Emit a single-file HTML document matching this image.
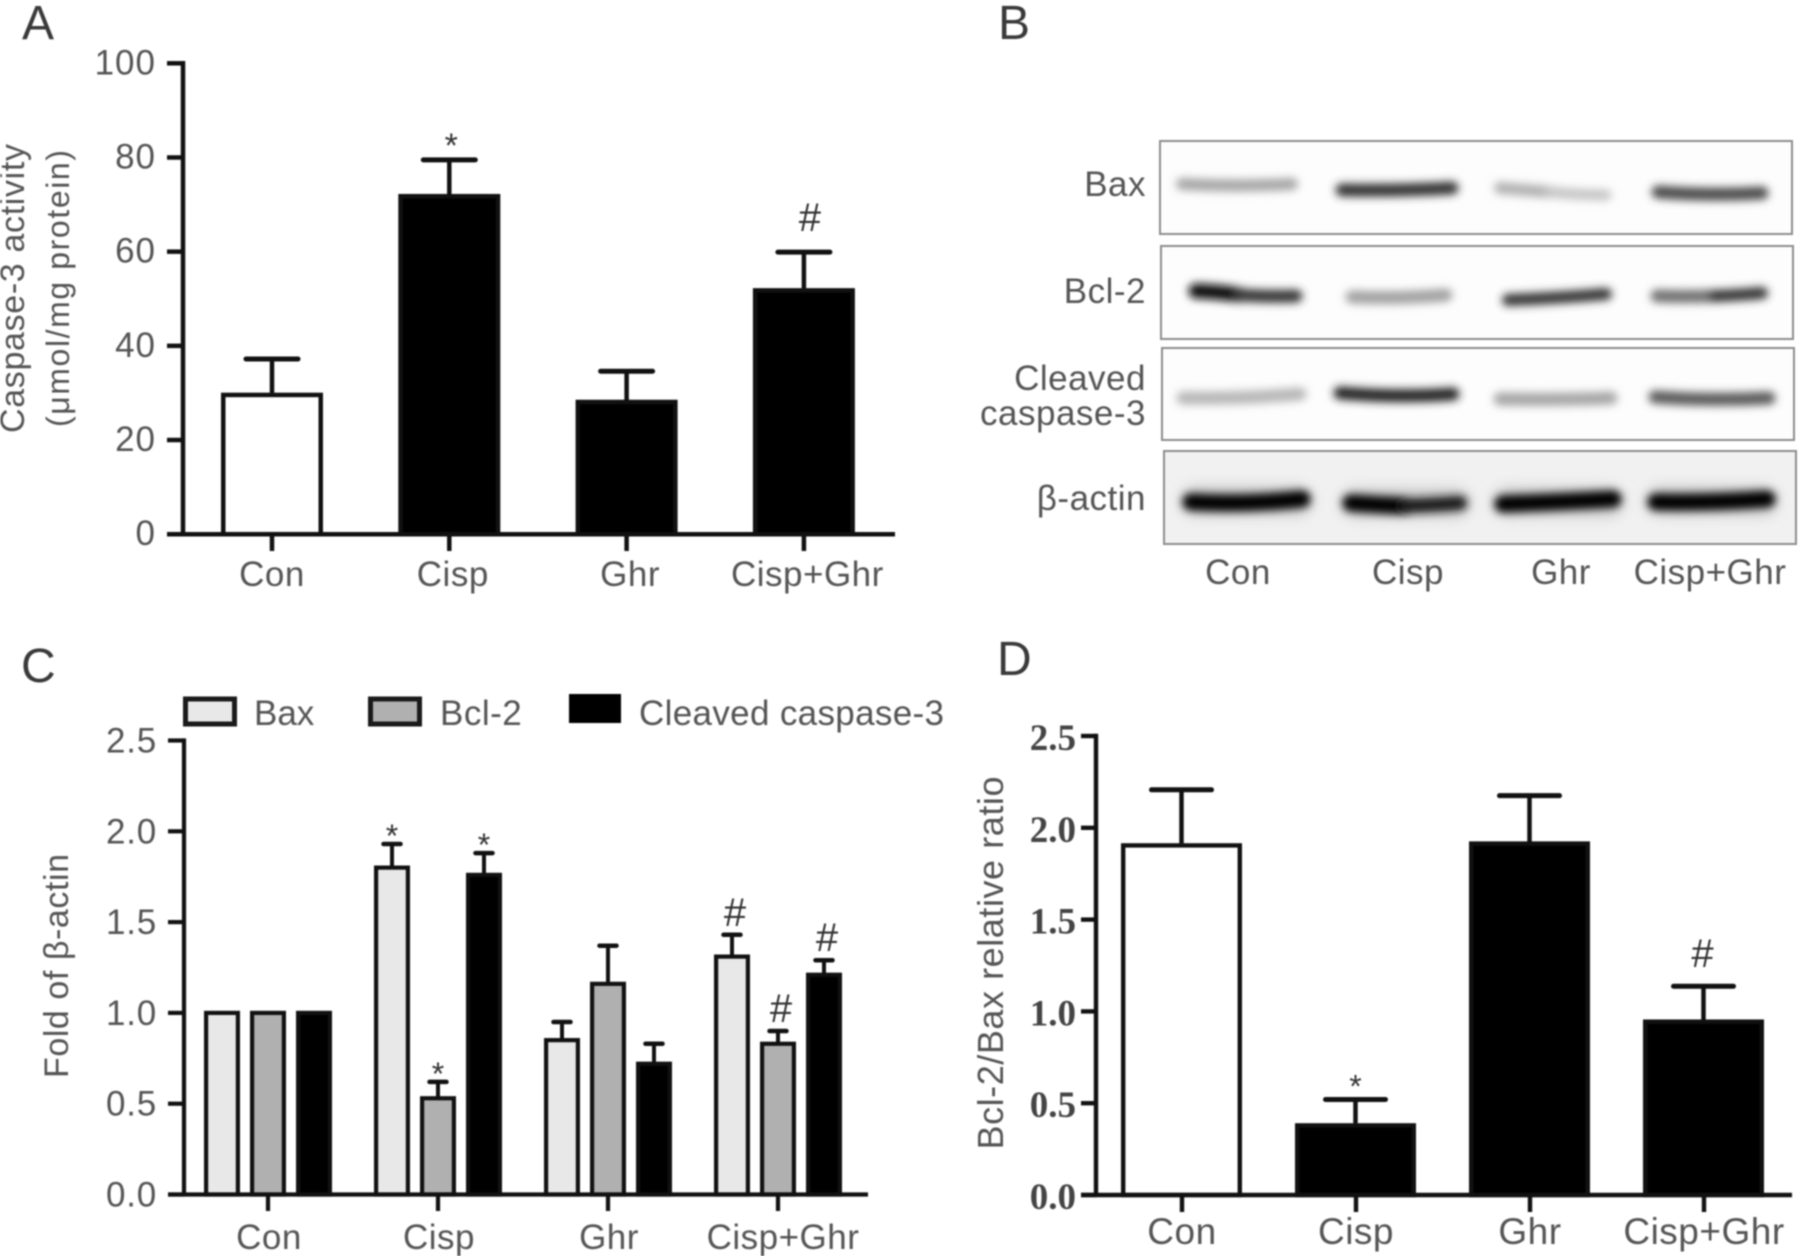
<!DOCTYPE html>
<html lang="en">
<head>
<meta charset="utf-8">
<title>Caspase-3 activity, western blots, fold of β-actin and Bcl-2/Bax ratio</title>
<style>
  html, body { margin: 0; padding: 0; background: #fff; }
  body { width: 1801px; height: 1256px; overflow: hidden; }
  svg { display: block; filter: blur(0.8px); }
  text { font-family: "Liberation Sans", sans-serif; fill: #555; }
  .panel-letter { font-size: 48px; fill: #3a3a3a; }
  .label { font-size: 35px; }
  .row-label { font-size: 35px; letter-spacing: .5px; }
  .blot-box { stroke: #8c8c8c; stroke-width: 2; fill: #fdfdfd; }
</style>
</head>
<body>
<svg id="figure" xmlns="http://www.w3.org/2000/svg" width="1801" height="1256" viewBox="0 0 1801 1256">
  <defs>
    <filter id="band-blur" filterUnits="userSpaceOnUse" x="1150" y="130" width="651" height="420"><feGaussianBlur stdDeviation="4.2"/></filter>
    <filter id="halo-blur" filterUnits="userSpaceOnUse" x="1150" y="440" width="651" height="110"><feGaussianBlur stdDeviation="7"/></filter>
  </defs>

  <text class="panel-letter" x="22" y="39">A</text>
  <text class="panel-letter" x="998" y="39">B</text>
  <text class="panel-letter" x="21" y="682">C</text>
  <text class="panel-letter" x="997" y="675">D</text>

  <g id="panel-a">
    <text class="label" style="font-size:34px" transform="translate(24 288.5) rotate(-90)" text-anchor="middle" textLength="289">Caspase-3 activity</text>
    <text class="label" style="font-size:32px" transform="translate(69 288.5) rotate(-90)" text-anchor="middle" textLength="277">(μmol/mg protein)</text>
  </g>

  <g id="panel-b">
    <rect class="blot-box" x="1160" y="141" width="632" height="93"/>
    <rect class="blot-box" x="1161" y="246" width="632" height="93"/>
    <rect class="blot-box" x="1162" y="348" width="632" height="92"/>
    <rect class="blot-box" x="1164" y="451" width="632" height="93" style="fill:#f1f1f1"/>

    <g filter="url(#halo-blur)" fill="none" stroke="#c4c4c4" stroke-width="28" stroke-linecap="round">
      <path d="M1195 501 H1298"/><path d="M1355 503 H1456"/><path d="M1507 502 H1609"/><path d="M1660 501 H1763"/>
    </g>
    <g filter="url(#band-blur)" fill="none" stroke-linecap="round">
      <path d="M1182 184 Q1240 187 1292 184" stroke="#a4a4a4" stroke-width="12"/>
      <path d="M1342 190 Q1400 191 1452 188" stroke="#303030" stroke-width="13"/>
      <path d="M1500 188 Q1525 190 1550 192" stroke="#b0b0b0" stroke-width="12"/>
      <path d="M1550 192 Q1580 195 1606 195" stroke="#c4c4c4" stroke-width="11"/>
      <path d="M1658 192 Q1710 196 1762 193" stroke="#484848" stroke-width="13"/>

      <path d="M1196 291 Q1220 292 1240 295" stroke="#101010" stroke-width="15"/>
      <path d="M1240 295 Q1270 297 1296 296" stroke="#363636" stroke-width="13"/>
      <path d="M1352 297 Q1400 299 1446 295" stroke="#a0a0a0" stroke-width="13"/>
      <path d="M1508 300 Q1560 298 1606 294" stroke="#303030" stroke-width="12"/>
      <path d="M1657 296 Q1685 297 1715 296" stroke="#707070" stroke-width="13"/>
      <path d="M1715 296 Q1740 295 1762 293" stroke="#303030" stroke-width="12"/>

      <path d="M1183 398 Q1240 399 1300 394" stroke="#b6b6b6" stroke-width="13"/>
      <path d="M1340 393 Q1400 398 1453 394" stroke="#202020" stroke-width="13"/>
      <path d="M1500 399 Q1560 400 1611 398" stroke="#a4a4a4" stroke-width="13"/>
      <path d="M1655 397 Q1710 401 1769 398" stroke="#585858" stroke-width="13"/>

      <path d="M1191 502 Q1245 505 1302 499" stroke="#000" stroke-width="17"/>
      <path d="M1351 503 Q1380 505 1405 506" stroke="#000" stroke-width="17"/>
      <path d="M1405 506 Q1435 505 1460 503" stroke="#161616" stroke-width="14"/>
      <path d="M1503 504 Q1560 502 1613 499" stroke="#000" stroke-width="17"/>
      <path d="M1656 502 Q1710 503 1767 499" stroke="#000" stroke-width="17"/>
    </g>

    <text class="row-label" x="1146" y="196" text-anchor="end">Bax</text>
    <text class="row-label" x="1146" y="303" text-anchor="end">Bcl-2</text>
    <text class="row-label" x="1146" y="390" text-anchor="end">Cleaved</text>
    <text class="row-label" x="1146" y="425" text-anchor="end">caspase-3</text>
    <text class="row-label" x="1146" y="510" text-anchor="end">β-actin</text>
    <text class="row-label" x="1238" y="584" text-anchor="middle">Con</text>
    <text class="row-label" x="1408" y="584" text-anchor="middle">Cisp</text>
    <text class="row-label" x="1561" y="584" text-anchor="middle">Ghr</text>
    <text class="row-label" x="1710" y="584" text-anchor="middle">Cisp+Ghr</text>
  </g>

  <g id="panel-c">
    <text class="label" style="font-size:34px" transform="translate(68 966) rotate(-90)" text-anchor="middle" textLength="224">Fold of β-actin</text>
    <rect x="185.5" y="699" width="49" height="25" fill="#e8e8e8" stroke="#1a1a1a" stroke-width="5"/>
    <text class="label" x="254" y="725">Bax</text>
    <rect x="370.5" y="699" width="49" height="25" fill="#b0b0b0" stroke="#1a1a1a" stroke-width="5"/>
    <text class="label" x="440" y="725" style="letter-spacing:.5px">Bcl-2</text>
    <rect x="569" y="694" width="52" height="29" fill="#000"/>
    <text class="label" x="639" y="725" textLength="305">Cleaved caspase-3</text>
  </g>

  <g id="panel-d">
    <text class="label" style="font-size:36px" transform="translate(1003 963) rotate(-90)" text-anchor="middle" textLength="373">Bcl-2/Bax relative ratio</text>
  </g>

<script>
// Shared categories
const categories = ['Con', 'Cisp', 'Ghr', 'Cisp+Ghr'];

// Panel A data
const yTicksA = [0, 20, 40, 60, 80, 100];
const yTickLabelsA = ['0', '20', '40', '60', '80', '100'];
const valuesA = [30, 72.2, 28.5, 52.2];
const errorsA = [7.2, 7.3, 6.1, 7.7];
const marksA = ['', '*', '', '#'];

// Panel C data
const seriesNamesC = ['bax', 'bcl2', 'cleaved-caspase-3'];
const yTicksC = [0, 0.5, 1, 1.5, 2, 2.5];
const yTickLabelsC = ['0.0', '0.5', '1.0', '1.5', '2.0', '2.5'];
const baxValues = [1, 1.8, 0.85, 1.31];
const baxErrors = [0, 0.13, 0.1, 0.12];
const baxMarks = ['', '*', '', '#'];
const bcl2Values = [1, 0.53, 1.16, 0.83];
const bcl2Errors = [0, 0.09, 0.21, 0.07];
const bcl2Marks = ['', '*', '', '#'];
const cleavedValues = [1, 1.76, 0.72, 1.21];
const cleavedErrors = [0, 0.12, 0.11, 0.08];
const cleavedMarks = ['', '*', '', '#'];

// Panel D data
const yTicksD = [0, 0.5, 1, 1.5, 2, 2.5];
const yTickLabelsD = ['0.0', '0.5', '1.0', '1.5', '2.0', '2.5'];
const valuesD = [1.915, 0.39, 1.925, 0.955];
const errorsD = [0.292, 0.13, 0.25, 0.182];
const marksD = ['', '*', '', '#'];

// Axis functions
const yA = v => 534.2 - v * 4.709;
const xA = i => 272 + i * 177.3;
const labelXA = i => xA(i) + (i === 0 ? 0 : 3.5);
const yC = v => 1194.5 - v * 181.6;
const xC = (i, s) => 268 + i * 170 + (s - 1) * 46;
const tickXC = i => 268 + i * 170;
const labelXC = i => tickXC(i) + (i === 3 ? 5 : 1);
const yD = v => 1195 - v * 183.6;
const xD = i => 1182 + i * 174;

const NS = 'http://www.w3.org/2000/svg';
function make(tag, attrs, parent, content) {
  const node = document.createElementNS(NS, tag);
  for (const key in attrs) node.setAttribute(key, attrs[key]);
  if (content !== undefined) node.textContent = content;
  parent.appendChild(node);
  return node;
}

function drawFrame(parent, key, cfg) {
  let el = make('line', { x1: cfg.axisX, x2: cfg.axisX, y1: cfg.y(cfg.ticks[cfg.ticks.length - 1]) - cfg.sw / 2, y2: cfg.y(0), stroke: '#111', 'stroke-width': cfg.sw }, parent);
  
  
  el = make('line', { x1: cfg.tickLeft, x2: cfg.xEnd, y1: cfg.y(0), y2: cfg.y(0), stroke: '#111', 'stroke-width': cfg.sw }, parent);
  
  
  cfg.ticks.forEach((t, i) => {
    let tick = make('line', { x1: cfg.tickLeft, x2: cfg.axisX, y1: cfg.y(t), y2: cfg.y(t), stroke: '#111', 'stroke-width': cfg.sw }, parent);
    
    
    let label = make('text', { x: cfg.tickLabelX, y: cfg.y(t) + cfg.tickDy, 'text-anchor': 'end', style: cfg.tickStyle }, parent, cfg.tickLabels[i]);
    
    
  });
  categories.forEach((c, i) => {
    let tick = make('line', { x1: cfg.tickX(i), x2: cfg.tickX(i), y1: cfg.y(0), y2: cfg.xTickBottom, stroke: '#111', 'stroke-width': cfg.sw }, parent);
    
    
    let label = make('text', { x: cfg.labelX(i), y: cfg.labelY, 'text-anchor': 'middle', style: cfg.labelStyle }, parent, c);
    
    
  });
}

function drawBar(parent, key, cfg, cx, value, err, fill, mark) {
  const half = cfg.barW / 2;
  const inset = cfg.sw / 2;
  const top = cfg.y(value);
  const base = cfg.y(0);
  if (err > 0) {
    const errTop = cfg.y(value + err);
    let stem = make('line', { x1: cx, x2: cx, y1: errTop, y2: top, stroke: '#111', 'stroke-width': cfg.errSw }, parent);
    
    
    let cap = make('line', { x1: cx - cfg.capW / 2, x2: cx + cfg.capW / 2, y1: errTop, y2: errTop, stroke: '#111', 'stroke-width': cfg.errSw + 0.5, 'stroke-linecap': 'round' }, parent);
    
    
    if (mark === '*') {
      let star = make('text', { x: cx + cfg.starDx, y: errTop - cfg.starGap + 0.41 * cfg.starSize, 'text-anchor': 'middle', style: 'font-size:' + cfg.starSize + 'px;fill:#333' }, parent, mark);
      
      
    } else if (mark === '#') {
      let hash = make('text', { x: cx + cfg.hashDx, y: errTop - cfg.hashGap, 'text-anchor': 'middle', style: 'font-size:' + cfg.hashSize + 'px;fill:#333' }, parent, mark);
      
      
    }
  }
  let bar = make('rect', { x: cx - half + inset, y: top + cfg.topInset, width: cfg.barW - cfg.sw, height: base - top - cfg.topInset, fill: fill, stroke: '#111', 'stroke-width': cfg.sw }, parent);
  
  
}

// Panel A
const cfgA = {
  y: yA, ticks: yTicksA, tickLabels: yTickLabelsA, axisX: 183, tickLeft: 167, xEnd: 895, sw: 4.5, topInset: 2,
  tickLabelX: 156, tickDy: 11, tickStyle: 'font-size:35px;letter-spacing:1px', tickX: xA, labelX: labelXA, labelY: 586,
  labelStyle: 'font-size:35px;letter-spacing:.5px', xTickBottom: 551,
  barW: 102, capW: 52, errSw: 4.5, starSize: 34, starGap: 17, hashSize: 40, hashGap: 21, starDx: 2, hashDx: 6
};
const panelA = document.getElementById('panel-a');
categories.forEach((c, i) => {
  drawBar(panelA, 'a-' + i, cfgA, xA(i), valuesA[i], errorsA[i], i === 0 ? '#fff' : '#000', marksA[i]);
});
drawFrame(panelA, 'a', cfgA);

// Panel C
const cfgC = {
  y: yC, ticks: yTicksC, tickLabels: yTickLabelsC, axisX: 184, tickLeft: 168, xEnd: 868, sw: 4.2, topInset: 0,
  tickLabelX: 157, tickDy: 12, tickStyle: 'font-size:35px;letter-spacing:.8px', tickX: tickXC, labelX: labelXC, labelY: 1249,
  labelStyle: 'font-size:35px;letter-spacing:.5px', xTickBottom: 1211,
  barW: 36, capW: 17, errSw: 4, starSize: 32, starGap: 10, hashSize: 40, hashGap: 9, starDx: 0, hashDx: 3
};
const panelC = document.getElementById('panel-c');
const seriesValuesC = [baxValues, bcl2Values, cleavedValues];
const seriesErrorsC = [baxErrors, bcl2Errors, cleavedErrors];
const seriesMarksC = [baxMarks, bcl2Marks, cleavedMarks];
const seriesFillsC = ['#e8e8e8', '#b0b0b0', '#000'];
categories.forEach((c, i) => {
  seriesNamesC.forEach((name, s) => {
    drawBar(panelC, 'c-' + name + '-' + i, cfgC, xC(i, s), seriesValuesC[s][i], seriesErrorsC[s][i], seriesFillsC[s], seriesMarksC[s][i]);
  });
});
drawFrame(panelC, 'c', cfgC);

// Panel D
const cfgD = {
  y: yD, ticks: yTicksD, tickLabels: yTickLabelsD, axisX: 1096, tickLeft: 1081, xEnd: 1792, sw: 4.4, topInset: 2,
  tickLabelX: 1076, tickDy: 14,
  tickStyle: 'font-family:"Liberation Serif",serif;font-weight:bold;font-size:37px;fill:#444',
  tickX: xD, labelX: xD, labelY: 1244, labelStyle: 'font-size:37px;letter-spacing:.5px', xTickBottom: 1212,
  barW: 121, capW: 60, errSw: 4.5, starSize: 32, starGap: 15, hashSize: 40, hashGap: 19, starDx: 0, hashDx: -1
};
const panelD = document.getElementById('panel-d');
categories.forEach((c, i) => {
  drawBar(panelD, 'd-' + i, cfgD, xD(i) - 0.5, valuesD[i], errorsD[i], i === 0 ? '#fff' : '#000', marksD[i]);
});
drawFrame(panelD, 'd', cfgD);
</script>
</svg>
</body>
</html>
